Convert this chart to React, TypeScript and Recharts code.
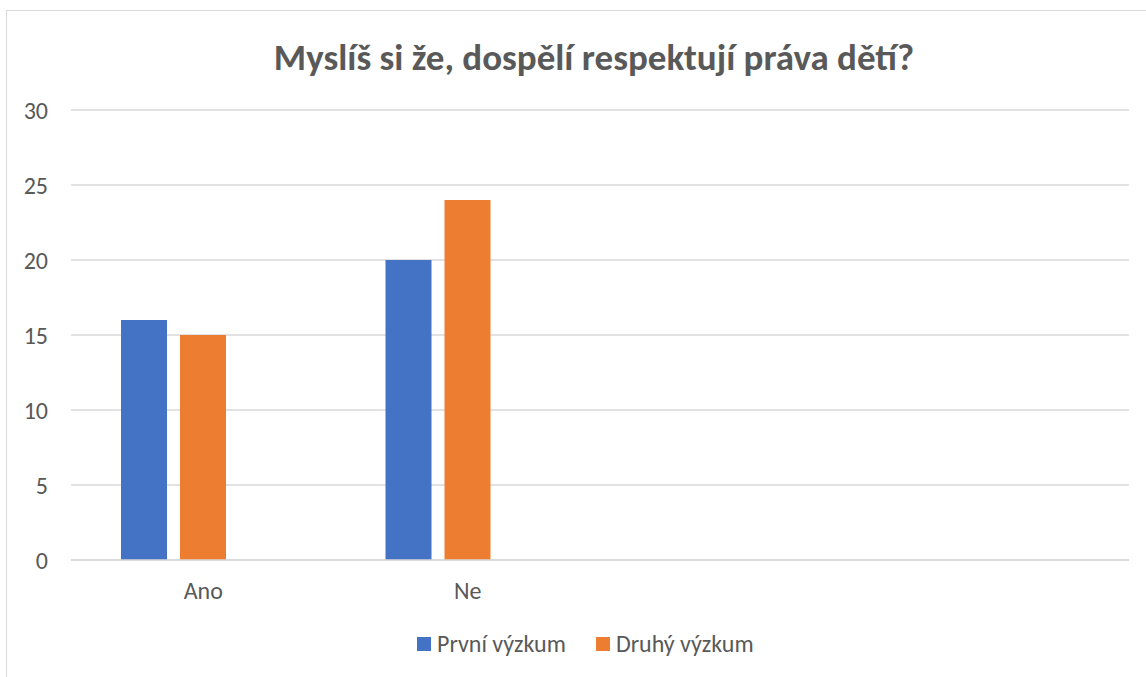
import { BarChart, Bar, XAxis, YAxis, CartesianGrid } from 'recharts';

const categories = ['Ano', 'Ne', ' ', '  '];
const prvniVyzkum = [16, 20, null, null];
const druhyVyzkum = [15, 24, null, null];
// empty third series in the source sheet, keeps the bar group offset
const prazdna = [null, null, null, null];
const yTicks = [0, 5, 10, 15, 20, 25, 30];

const series = [
  { key: 'prvni', name: 'První výzkum', color: '#4472C4' },
  { key: 'druhy', name: 'Druhý výzkum', color: '#ED7D31' },
];

const data = categories.map((c, i) => ({
  name: c,
  prvni: prvniVyzkum[i],
  druhy: druhyVyzkum[i],
  prazdna: prazdna[i],
}));

const font = 'Carlito, Calibri, "Open Sans", sans-serif';
const grey = '#595959';

export default function App() {
  return (
    <div style={{ position: 'absolute', left: 0, top: 0, width: 1146, height: 677, background: '#fff', fontFamily: font }}>
      <div
        style={{
          position: 'absolute',
          left: 6,
          top: 10,
          right: 0,
          bottom: 0,
          borderTop: '1.5px solid #d9d9d9',
          borderLeft: '1.5px solid #d9d9d9',
        }}
      />
      <div
        style={{
          position: 'absolute',
          top: 34,
          left: 0,
          width: 1188,
          textAlign: 'center',
          fontSize: 37,
          lineHeight: '48px',
          fontWeight: 'bold',
          color: grey,
        }}
      >
        Myslíš si že, dospělí respektují práva dětí?
      </div>
      <BarChart
        width={1146}
        height={677}
        data={data}
        margin={{ top: 110, right: 17, bottom: 77, left: 31 }}
        barGap={13}
        style={{ position: 'absolute', left: 0, top: 0 }}
      >
        <CartesianGrid vertical={false} stroke="#d9d9d9" strokeWidth={1.5} />
        <YAxis
          width={40}
          domain={[0, 30]}
          ticks={yTicks}
          axisLine={false}
          tickLine={false}
          tickSize={0}
          tickMargin={23}
          tick={{ fill: grey, fontSize: 24, fontFamily: font }}
        />
        <XAxis
          dataKey="name"
          height={40}
          axisLine={{ stroke: '#d9d9d9', strokeWidth: 1.5 }}
          tickLine={false}
          tickSize={0}
          tickMargin={22}
          tick={{ fill: grey, fontSize: 24, fontFamily: font }}
        />
        {series.map((s) => (
          <Bar key={s.key} dataKey={s.key} name={s.name} fill={s.color} barSize={46} isAnimationActive={false} />
        ))}
        <Bar dataKey="prazdna" name="" legendType="none" fill="#A5A5A5" barSize={46} isAnimationActive={false} />
      </BarChart>
      <div
        style={{
          position: 'absolute',
          top: 629,
          left: 417,
          display: 'flex',
          alignItems: 'center',
          fontSize: 24,
          lineHeight: '30px',
          color: grey,
        }}
      >
        {series.map((s) => (
          <span key={s.key} style={{ display: 'flex', alignItems: 'center', marginRight: 30 }}>
            <span style={{ width: 14, height: 14, background: s.color, display: 'inline-block', marginRight: 6 }} />
            {s.name}
          </span>
        ))}
      </div>
    </div>
  );
}
